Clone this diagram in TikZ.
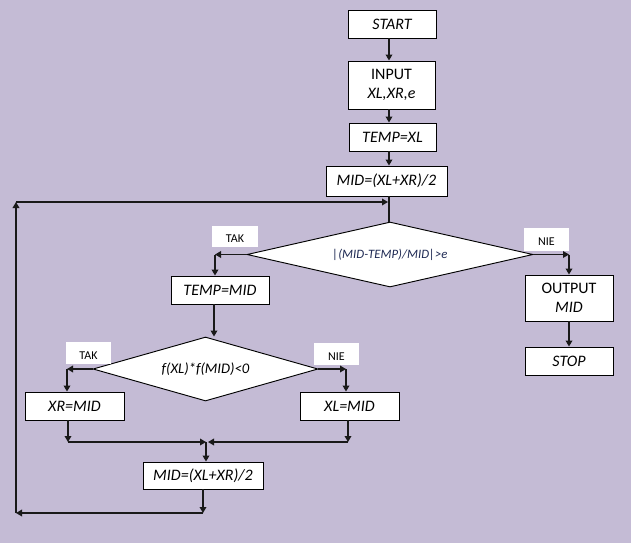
\documentclass[tikz,border=0pt]{standalone}
\usepackage{fontspec}
\setmainfont{Carlito}
\usetikzlibrary{arrows.meta,shapes.geometric}
\definecolor{bg}{RGB}{196,187,213}
\definecolor{navy}{RGB}{31,42,84}
\definecolor{lncol}{RGB}{25,25,25}
\begin{document}
\begin{tikzpicture}[x=0.75pt,y=-0.75pt,
  box/.style={draw=black, fill=white, line width=0.7pt, inner sep=0pt,
    font=\fontsize{12}{14.25}\selectfont, text=black},
  dia/.style={diamond, draw=black, fill=white, line width=0.7pt, inner sep=0pt, shape aspect=4.4},
  lbl/.style={fill=white, inner sep=0pt, font=\fontsize{9}{10}\selectfont, text=black,
    text height=9.5pt, text depth=0pt},
  lnk/.style={draw=lncol, line width=0.95pt},
  arr/.style={lnk, -{Triangle[length=4.5pt,width=5pt]}}]
\fill[bg] (0,0) rectangle (631,543);
\useasboundingbox (0,0) rectangle (631,543);
% process boxes
\node[box, minimum width=66pt, minimum height=21pt] (start) at (392,24) {\itshape START};
\node[box, minimum width=65.25pt, minimum height=36pt, align=center] (input) at (391.5,85) {INPUT\\{\itshape XL,XR,e}};
\node[box, minimum width=65.25pt, minimum height=21pt] (temp1) at (392.5,137) {\itshape TEMP=XL};
\node[box, minimum width=90.75pt, minimum height=22.5pt] (mid1) at (386.5,181) {\itshape MID=(XL+XR)/2};
\node[dia, minimum width=214.5pt, minimum height=48.75pt, text=navy,
  font=\fontsize{9.6}{11}\selectfont\itshape] (d1) at (390,254.5) {|(MID-TEMP)/MID|>e};
\node[box, minimum width=73.5pt, minimum height=21pt] (temp2) at (220,290) {\itshape TEMP=MID};
\node[box, minimum width=66pt, minimum height=34.5pt, align=center] (output) at (569,298) {OUTPUT\\{\itshape MID}};
\node[box, minimum width=66pt, minimum height=21pt] (stop) at (569,361) {\itshape STOP};
\node[dia, minimum width=168.75pt, minimum height=48pt, text=black,
  font=\fontsize{11}{12}\selectfont\itshape] (d2) at (205.5,369) {f(XL)*f(MID)<0};
\node[box, minimum width=74.25pt, minimum height=21pt] (xr) at (74.5,406) {\itshape XR=MID};
\node[box, minimum width=74.25pt, minimum height=21pt] (xl) at (349.5,406) {\itshape XL=MID};
\node[box, minimum width=90pt, minimum height=20.25pt] (mid2) at (203,475.5) {\itshape MID=(XL+XR)/2};
% branch labels
\node[lbl, minimum width=34.5pt, minimum height=15.75pt] (tak1) at (235,236.5) {TAK};
\node[lbl, minimum width=33.75pt, minimum height=17.25pt] (nie1) at (546.5,239.5) {NIE};
\node[lbl, minimum width=33.75pt, minimum height=16.5pt] (tak2) at (88.5,353) {TAK};
\node[lbl, minimum width=33.75pt, minimum height=16.5pt] (nie2) at (336.5,354) {NIE};
% helper coordinates
\coordinate (ax) at (389,0);
\coordinate (xa) at (215,0);
\coordinate (xb) at (214,0);
\coordinate (xc) at (67,0);
\coordinate (xd) at (346,0);
\coordinate (jl) at (68,442);
\coordinate (jr) at (348,442);
\coordinate (jm1) at (206,442);
\coordinate (jm2) at (208,442);
\coordinate (b1) at (203,513);
\coordinate (b2) at (16,513);
\coordinate (b3) at (16,202);
\coordinate (b4) at (388,202);
% main column
\draw[arr] (start.south -| ax) -- (input.north -| ax);
\draw[arr] (input.south -| ax) -- (temp1.north -| ax);
\draw[arr] (temp1.south -| ax) -- (mid1.north -| ax);
\draw[lnk] (mid1.south -| ax) -- (d1.north -| ax);
% first decision
\draw[arr] (d1.west) -- (d1.west -| xa);
\draw[arr] (d1.west -| xa) -- (temp2.north -| xa);
\draw[arr] (d1.east) -- (d1.east -| output.north);
\draw[arr] (d1.east -| output.north) -- (output.north);
\draw[arr] (output.south) -- (stop.north);
% second decision
\draw[arr] (temp2.south -| xb) -- (d2.north -| xb);
\draw[arr] (d2.west) -- (d2.west -| xc);
\draw[arr] (d2.west -| xc) -- (xr.north -| xc);
\draw[arr] (d2.east) -- (d2.east -| xd);
\draw[arr] (d2.east -| xd) -- (xl.north -| xd);
% merge
\draw[arr] (xr.south -| jl) -- (jl);
\draw[arr] (jl) -- (jm1);
\draw[arr] (xl.south -| jr) -- (jr);
\draw[arr] (jr) -- (jm2);
\draw[arr] (jm1) -- (mid2.north -| jm1);
% loop back
\draw[arr] (mid2.south -| b1) -- (b1);
\draw[arr] (b1) -- (b2);
\draw[arr] (b2) -- (b3);
\draw[arr] (b3) -- (b4);
\end{tikzpicture}
\end{document}
